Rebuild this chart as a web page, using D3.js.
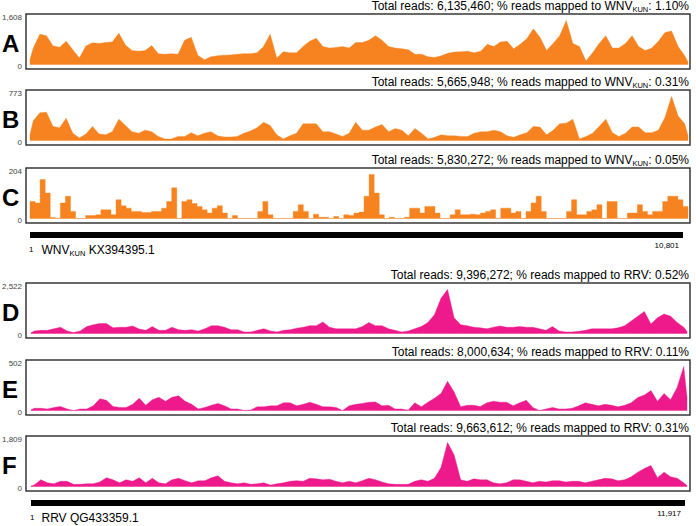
<!DOCTYPE html>
<html><head><meta charset="utf-8">
<script src="https://cdn.jsdelivr.net/npm/d3@7"></script>
<style>
html,body{margin:0;padding:0;background:#fff;}
svg{display:block;font-family:"Liberation Sans",Arial,Helvetica,sans-serif;}
</style></head>
<body>
<svg id="chart" width="696" height="526"></svg>
<script>
// ---------------- DATA ----------------
const panelLetters = ["A","B","C","D","E","F"];
const panelVirus   = ["WNV","WNV","WNV","RRV","RRV","RRV"];
const totalReads   = [6135460, 5665948, 5830272, 9396272, 8000634, 9663612];
const pctMapped    = ["1.10%","0.31%","0.05%","0.52%","0.11%","0.31%"];
const yMax         = [1608, 773, 204, 2522, 502, 1809];
const genomeLength = {WNV: 10801, RRV: 11917};
const genomeLabel  = {WNV: ["WNV","KUN"," KX394395.1"], RRV: ["RRV QG433359.1","",""]};

// coverage (reads per genome bin)
const covA = [600,1109,1053,679,634,849,543,238,679,792,770,804,826,1143,713,509,487,509,690,396,
  374,396,374,883,996,340,170,283,317,340,351,374,396,396,430,657,1109,238,464,430,
  430,657,849,962,657,600,623,657,600,804,804,883,1053,883,657,600,577,543,374,374,
  283,260,317,408,453,464,487,430,487,736,657,826,849,577,736,940,1302,996,509,770,
  1053,1608,770,657,125,430,770,1053,600,600,770,1053,657,509,600,849,1166,1223,657,317];
const covB = [348,486,497,248,226,392,127,44,116,248,116,99,155,375,265,155,127,182,155,72,
  28,28,72,72,138,83,127,155,83,61,61,72,127,166,226,320,265,99,28,83,
  127,293,293,293,155,155,116,72,127,320,182,182,237,281,155,210,182,83,210,127,
  28,55,99,83,83,72,72,127,155,155,182,155,83,55,99,138,248,237,99,182,
  293,304,375,28,72,127,248,375,138,72,127,237,237,138,138,182,403,773,430,293];
const covC = [79,72,181,118,5,0,72,103,33,0,0,14,14,17,40,40,17,87,59,48,
  33,33,28,28,33,33,48,79,142,0,79,87,69,56,40,25,48,59,25,0,
  14,0,0,0,0,33,79,17,0,0,0,0,33,64,33,0,20,6,6,0,
  9,0,17,14,25,30,103,204,118,17,0,6,0,0,6,48,48,25,56,56,
  25,0,0,17,40,17,17,20,17,25,33,40,0,48,48,25,33,0,33,72,
  103,33,0,0,0,0,33,87,17,17,33,40,64,0,79,79,0,0,25,25,
  64,33,17,33,33,79,103,103,87,56];
const covD = [144,180,180,270,360,144,54,144,396,504,576,576,324,360,360,432,252,180,396,180,
  180,360,216,180,216,144,270,450,450,360,216,216,90,90,180,270,144,90,180,216,
  306,360,450,450,666,360,270,270,270,270,396,630,450,450,270,180,90,144,270,396,
  630,1081,2017,2522,900,504,450,360,324,270,360,432,360,360,396,360,360,270,180,396,
  144,90,90,126,180,270,270,270,270,324,450,720,990,1261,540,900,1117,990,630,360];
const covE = [25,25,18,35,46,18,0,18,18,53,133,116,46,35,35,70,140,60,123,151,
  105,151,168,105,70,18,35,60,81,53,18,18,0,7,42,42,53,53,88,88,
  53,70,95,70,42,42,35,0,53,70,81,95,98,53,60,18,18,4,88,42,
  95,140,193,333,211,42,60,60,46,88,105,95,95,53,88,116,35,0,18,35,
  18,18,25,53,88,70,53,70,60,42,60,88,147,176,228,105,193,123,263,502];
const covF = [63,276,151,113,214,214,88,88,113,113,188,364,276,151,276,214,364,151,339,151,
  113,276,339,239,151,239,239,364,440,214,151,113,151,88,113,151,63,113,151,214,
  239,214,339,314,276,301,214,151,214,151,239,339,276,188,113,88,88,88,214,276,
  214,339,779,1809,1300,276,214,314,276,276,151,113,151,276,276,214,151,214,188,239,
  239,188,214,214,151,214,276,339,314,239,276,402,590,741,867,364,590,402,339,151];
const coverage = [covA, covB, covC, covD, covE, covF];
const blockStyle = [false, false, true, false, false, false]; // C drawn as flat blocks

// ---------------- LAYOUT ----------------
const svg = d3.select("#chart");
const colors = {WNV: "#f6831f", RRV: "#ee1a8b"};
const panelTops = [14, 90, 168, 283, 360, 436];
const boxH = 55, boxX0 = 26, boxX1 = 690;
const dataRange = {WNV: [30, 688], RRV: [31, 687]};
const barRange  = {WNV: [30, 683], RRV: [31, 685]};
const barY      = {WNV: 232, RRV: 500};
const fmt = d3.format(",");

panelLetters.forEach((letter, p) => {
  const top = panelTops[p];
  const virus = panelVirus[p];
  const L = genomeLength[virus];
  const data = coverage[p];
  const n = data.length;
  const w = (L - 1) / n;
  const x = d3.scaleLinear().domain([1, L]).range(dataRange[virus]);
  const y = d3.scaleLinear().domain([0, yMax[p]]).range([top + boxH - 4.5, top + 6.5]);
  const g = svg.append("g");

  let pts, curve;
  if (blockStyle[p]) {
    pts = data.map((v, i) => ({pos: 1 + i * w, v}));
    pts.push({pos: L, v: data[n - 1]});
    curve = d3.curveStepAfter;
  } else {
    pts = data.map((v, i) => ({pos: 1 + (i + 0.5) * w, v}));
    pts.unshift({pos: 1, v: data[0] * 0.3});
    pts.push({pos: L, v: data[n - 1] * 0.3});
    curve = d3.curveLinear;
  }
  const area = d3.area().curve(curve)
    .x(d => x(d.pos)).y0(y(0)).y1(d => y(d.v));
  g.append("path").datum(pts).attr("d", area)
    .attr("fill", colors[virus]).attr("stroke", colors[virus]).attr("stroke-width", 0.4);

  // box
  g.append("rect").attr("x", boxX0).attr("y", top)
    .attr("width", boxX1 - boxX0).attr("height", boxH)
    .attr("fill", "none").attr("stroke", "#2a2a2a").attr("stroke-width", 1.4);

  // tick labels
  g.append("text").attr("x", 22).attr("y", top + 3.5).attr("dy", "0.35em")
    .attr("text-anchor", "end").attr("font-size", 8).attr("fill", "#444")
    .text(fmt(yMax[p]));
  g.append("text").attr("x", 22).attr("y", top + boxH - 3).attr("dy", "0.35em")
    .attr("text-anchor", "end").attr("font-size", 8).attr("fill", "#444")
    .text("0");

  // panel letter
  g.append("text").attr("x", 2).attr("y", top + 37.5)
    .attr("font-size", 24).attr("font-weight", "bold").attr("fill", "#000")
    .text(letter);

  // title
  const t = g.append("text").attr("x", 689).attr("y", top - 4.5)
    .attr("text-anchor", "end").attr("font-size", 12).attr("fill", "#000");
  if (virus === "WNV") {
    t.append("tspan").text("Total reads: " + fmt(totalReads[p]) + "; % reads mapped to WNV");
    t.append("tspan").attr("font-size", 7.5).attr("dy", 2.5).text("KUN");
    t.append("tspan").attr("dy", -2.5).text(": " + pctMapped[p]);
  } else {
    t.text("Total reads: " + fmt(totalReads[p]) + "; % reads mapped to RRV: " + pctMapped[p]);
  }
});

// genome bars
["WNV", "RRV"].forEach(virus => {
  const L = genomeLength[virus];
  const xb = d3.scaleLinear().domain([1, L]).range(barRange[virus]);
  const by = barY[virus];
  svg.append("rect").attr("x", xb(1)).attr("y", by)
    .attr("width", xb(L) - xb(1)).attr("height", 6).attr("fill", "#000");
  svg.append("text").attr("x", xb(1) - 1).attr("y", by + 17).attr("dy", "0.35em")
    .attr("font-size", 8).attr("fill", "#000").text("1");
  svg.append("text").attr("x", xb(L) - 4).attr("y", by + 13).attr("dy", "0.35em")
    .attr("text-anchor", "end").attr("font-size", 8).attr("fill", "#000").text(fmt(L));
  const lab = genomeLabel[virus];
  const t = svg.append("text").attr("x", 41.5).attr("y", by + 21.5)
    .attr("font-size", 12).attr("fill", "#000");
  t.append("tspan").text(lab[0]);
  if (lab[1]) {
    t.append("tspan").attr("font-size", 7.5).attr("dy", 2.5).text(lab[1]);
    t.append("tspan").attr("dy", -2.5).text(lab[2]);
  }
});
</script>
</body></html>
